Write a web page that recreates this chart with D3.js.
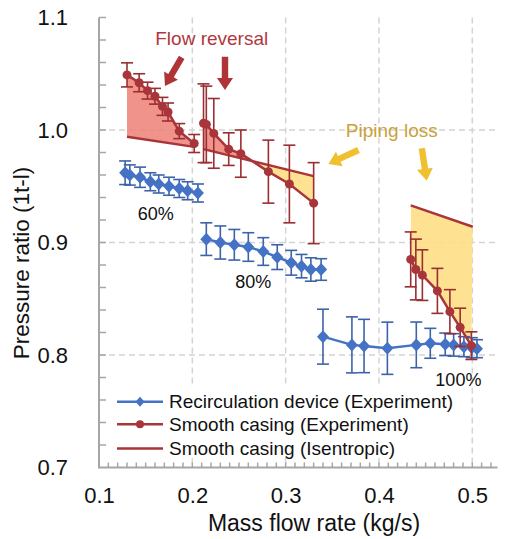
<!DOCTYPE html>
<html>
<head>
<meta charset="utf-8">
<script src="https://cdn.jsdelivr.net/npm/d3@7"></script>
<style>
  body { margin: 0; background: #fff; }
  svg { font-family: "Liberation Sans", Arial, sans-serif; }
</style>
</head>
<body>
<svg id="chart" width="507" height="539"></svg>
<script>
// [mass flow, pressure ratio, error]
var recirc60 = [[0.128, 0.962, 0.0105], [0.133, 0.960, 0.009], [0.144, 0.958, 0.009], [0.155, 0.954, 0.008], [0.164, 0.952, 0.008],
                [0.175, 0.950, 0.008], [0.186, 0.948, 0.008], [0.195, 0.946, 0.008], [0.206, 0.944, 0.008]]
var recirc80 = [[0.215, 0.903, 0.0145], [0.230, 0.900, 0.0147], [0.245, 0.898, 0.0136], [0.260, 0.896, 0.0127], [0.276, 0.892, 0.0123],
                [0.291, 0.887, 0.011], [0.306, 0.882, 0.011], [0.317, 0.879, 0.0104], [0.327, 0.876, 0.0104], [0.338, 0.876, 0.0096]]
var recirc100 = [[0.340, 0.8163, 0.0244], [0.371, 0.809, 0.0249], [0.384, 0.808, 0.0237], [0.409, 0.806, 0.0232], [0.440, 0.809, 0.0203],
                 [0.455, 0.8104, 0.0133], [0.471, 0.8095, 0.010], [0.480, 0.809, 0.010], [0.491, 0.8074, 0.0089], [0.4995, 0.8065, 0.0089],
                 [0.505, 0.8056, 0.008]]

var smooth1 = [[0.130, 1.049, 0.0107], [0.143, 1.042, 0.008], [0.152, 1.035, 0.0075], [0.160, 1.030, 0.007], [0.168, 1.021, 0.008],
               [0.174, 1.016, 0.008], [0.186, 0.999, 0.0067], [0.202, 0.988, 0.008]]
var smooth2 = [[0.212, 1.006, 0.035], [0.215, 1.005, 0.034], [0.223, 0.997, 0.031], [0.239, 0.983, 0.0145], [0.252, 0.979, 0.021],
               [0.2815, 0.963, 0.028], [0.304, 0.952, 0.0345], [0.330, 0.935, 0.036]]
var smooth3 = [[0.434, 0.885, 0.0244], [0.4395, 0.876, 0.027], [0.4465, 0.871, 0.0225], [0.4626, 0.857, 0.020], [0.476, 0.8385, 0.0196],
               [0.487, 0.8246, 0.017], [0.499, 0.8083, 0.0123]]

var isen1 = [[0.130, 0.994], [0.202, 0.985]]
var isen2 = [[0.212, 0.983], [0.330, 0.959]]
var isen3 = [[0.434, 0.933], [0.5005, 0.914]]

var xTicks = [0.1, 0.2, 0.3, 0.4, 0.5]
var yTicks = [0.7, 0.8, 0.9, 1.0, 1.1]
var speedLabels = [{t: "60%", x: 0.1608, y: 0.9204}, {t: "80%", x: 0.2654, y: 0.8596}, {t: "100%", x: 0.4851, y: 0.7724}]
var legendItems = ["Recirculation device (Experiment)", "Smooth casing (Experiment)", "Smooth casing (Isentropic)"]
// arrows: [from, to]
var redArrows = [[[0.1886, 1.0646], [0.1707, 1.0391]], [[0.235, 1.0652], [0.235, 1.0356]]]
var yellowArrows = [[[0.378, 0.9822], [0.3458, 0.9698]], [[0.4459, 0.9837], [0.4512, 0.9549]]]

var blue = "#4472c4", blueBar = "#3c63aa", red = "#a8353a", redBar = "#9a2e33"
var redFill = "#ee857b", yellowFill = "#ffdf85"

var x = d3.scaleLinear().domain([0.1, 0.5]).range([99, 472.3])
var y = d3.scaleLinear().domain([0.7, 1.1]).range([467.5, 17.5])
var xMax = 0.527

var svg = d3.select("#chart")

// grid
svg.append("g").selectAll("line").data(xTicks.slice(1)).enter().append("line")
    .attr("x1", d => x(d)).attr("x2", d => x(d))
    .attr("y1", y(1.1)).attr("y2", y(0.7))
    .style("stroke", "#d4d4d4").style("stroke-width", 1.5).style("stroke-dasharray", "6,4")
svg.append("g").selectAll("line").data([0.8, 0.9, 1.0]).enter().append("line")
    .attr("x1", x(0.1)).attr("x2", x(xMax))
    .attr("y1", d => y(d)).attr("y2", d => y(d))
    .style("stroke", "#d4d4d4").style("stroke-width", 1.5).style("stroke-dasharray", "6,4")

// fills between experiment and isentropic
var defs = svg.append("defs")
var groups = [[smooth1, isen1], [smooth2, isen2], [smooth3, isen3]]
groups.forEach((g, i) => {
    var a = [x(g[1][0][0]), y(g[1][0][1])], b = [x(g[1][1][0]), y(g[1][1][1])]
    defs.append("clipPath").attr("id", "above" + i).append("polygon")
        .attr("points", [a, b, [b[0], 0], [a[0], 0]].map(p => p.join(",")).join(" "))
    defs.append("clipPath").attr("id", "below" + i).append("polygon")
        .attr("points", [a, b, [b[0], 539], [a[0], 539]].map(p => p.join(",")).join(" "))
    var poly = g[0].map(d => [x(d[0]), y(d[1])]).concat([b, a])
    var pts = poly.map(p => p.join(",")).join(" ")
    svg.append("polygon").attr("points", pts).attr("clip-path", "url(#above" + i + ")")
        .style("fill", redFill).style("fill-opacity", 0.88)
    svg.append("polygon").attr("points", pts).attr("clip-path", "url(#below" + i + ")")
        .style("fill", yellowFill).style("fill-opacity", 0.9)
})

// axes
svg.append("line").attr("x1", x(0.1)).attr("x2", x(0.1)).attr("y1", y(1.1)).attr("y2", y(0.7))
    .style("stroke", "#a6a6a6").style("stroke-width", 2)
svg.append("line").attr("x1", x(0.1) - 1).attr("x2", x(xMax)).attr("y1", y(0.7)).attr("y2", y(0.7))
    .style("stroke", "#a6a6a6").style("stroke-width", 2)
svg.append("g").selectAll("line").data(d3.range(0.72, 1.101, 0.02)).enter().append("line")
    .attr("x1", x(0.1)).attr("x2", x(0.1) + 7)
    .attr("y1", d => y(d)).attr("y2", d => y(d))
    .style("stroke", "#a6a6a6").style("stroke-width", 1.5)
svg.append("g").selectAll("line").data(d3.range(0.11, xMax, 0.01)).enter().append("line")
    .attr("x1", d => x(d)).attr("x2", d => x(d))
    .attr("y1", y(0.7)).attr("y2", y(0.7) - 5)
    .style("stroke", "#a6a6a6").style("stroke-width", 1.5)

svg.append("g").attr("transform", "translate(0," + y(0.7) + ")")
    .call(d3.axisBottom(x).tickValues(xTicks).tickFormat(d3.format(".1f")).tickSize(0).tickPadding(20))
    .call(g => g.select(".domain").remove())
    .selectAll("text").style("font-size", "22px").style("fill", "#111").style("font-family", "Liberation Sans, Arial")
svg.append("g").attr("transform", "translate(" + x(0.1) + ",0)")
    .call(d3.axisLeft(y).tickValues(yTicks).tickFormat(d3.format(".1f")).tickSize(0).tickPadding(31))
    .call(g => g.select(".domain").remove())
    .selectAll("text").style("font-size", "22px").style("fill", "#111").style("font-family", "Liberation Sans, Arial")

svg.append("text").attr("x", 314).attr("y", 531).style("text-anchor", "middle")
    .style("font-size", "23px").style("fill", "#111").text("Mass flow rate (kg/s)")
svg.append("text").attr("transform", "translate(29,263) rotate(-90)").style("text-anchor", "middle")
    .style("font-size", "22.5px").style("fill", "#111").text("Pressure ratio (1t-l)")

// series drawing
function errorBars(data, color) {
    var g = svg.append("g").style("stroke", color).style("stroke-width", 1.6)
    g.selectAll("line.v").data(data).enter().append("line")
        .attr("x1", d => x(d[0])).attr("x2", d => x(d[0]))
        .attr("y1", d => y(d[1] + d[2])).attr("y2", d => y(d[1] - d[2]))
    g.selectAll("line.t").data(data).enter().append("line")
        .attr("x1", d => x(d[0]) - 6).attr("x2", d => x(d[0]) + 6)
        .attr("y1", d => y(d[1] + d[2])).attr("y2", d => y(d[1] + d[2]))
    g.selectAll("line.b").data(data).enter().append("line")
        .attr("x1", d => x(d[0]) - 6).attr("x2", d => x(d[0]) + 6)
        .attr("y1", d => y(d[1] - d[2])).attr("y2", d => y(d[1] - d[2]))
}
var line = d3.line().x(d => x(d[0])).y(d => y(d[1]))
var diamond = "M0,-6.5L6,0L0,6.5L-6,0Z"

;[recirc60, recirc80, recirc100].forEach(s => {
    errorBars(s, blueBar)
    svg.append("path").attr("d", line(s)).style("fill", "none").style("stroke", blue).style("stroke-width", 2.5)
    svg.append("g").selectAll("path").data(s).enter().append("path")
        .attr("d", diamond).attr("transform", d => "translate(" + x(d[0]) + "," + y(d[1]) + ")")
        .style("fill", blue)
})

;[isen1, isen2, isen3].forEach(s => {
    svg.append("path").attr("d", line(s)).style("fill", "none").style("stroke", red).style("stroke-width", 2.5)
})
;[smooth1, smooth2, smooth3].forEach(s => {
    errorBars(s, redBar)
    svg.append("path").attr("d", line(s)).style("fill", "none").style("stroke", red).style("stroke-width", 2.5)
    svg.append("g").selectAll("circle").data(s).enter().append("circle")
        .attr("cx", d => x(d[0])).attr("cy", d => y(d[1])).attr("r", 4.5)
        .style("fill", red)
})

// annotations
function arrow(a, color) {
    var x0 = x(a[0][0]), y0 = y(a[0][1]), x1 = x(a[1][0]), y1 = y(a[1][1])
    var len = Math.hypot(x1 - x0, y1 - y0), ux = (x1 - x0) / len, uy = (y1 - y0) / len
    var px = -uy, py = ux, sw = 3.2, hw = 8, hl = 12
    var bx = x1 - ux * hl, by = y1 - uy * hl
    var pts = [[x0 + px * sw, y0 + py * sw], [bx + px * sw, by + py * sw], [bx + px * hw, by + py * hw], [x1, y1],
               [bx - px * hw, by - py * hw], [bx - px * sw, by - py * sw], [x0 - px * sw, y0 - py * sw]]
    svg.append("polygon").attr("points", pts.map(p => p.join(",")).join(" ")).style("fill", color)
}
redArrows.forEach(a => arrow(a, "#b03338"))
yellowArrows.forEach(a => arrow(a, "#f0c030"))

svg.append("text").attr("x", x(0.2208)).attr("y", y(1.0756)).style("text-anchor", "middle")
    .style("font-size", "19px").style("fill", "#b0383c").text("Flow reversal")
svg.append("text").attr("x", x(0.4137)).attr("y", y(0.9935)).style("text-anchor", "middle")
    .style("font-size", "19px").style("fill", "#c9a23a").text("Piping loss")

// legend
var leg = svg.append("g")
leg.append("rect").attr("x", 107).attr("y", 387).attr("width", 350).attr("height", 71).style("fill", "#fff")
var rows = [401.7, 424.3, 448.5]
legendItems.forEach((t, i) => {
    var c = i == 0 ? blue : red
    leg.append("line").attr("x1", 117).attr("x2", 163).attr("y1", rows[i]).attr("y2", rows[i])
        .style("stroke", c).style("stroke-width", 2.5)
    if (i == 0) leg.append("path").attr("d", "M0,-5L4.5,0L0,5L-4.5,0Z").attr("transform", "translate(140," + rows[i] + ")").style("fill", c)
    if (i == 1) leg.append("circle").attr("cx", 140).attr("cy", rows[i]).attr("r", 4).style("fill", c)
    leg.append("text").attr("x", 169).attr("y", rows[i]).attr("dy", "0.35em")
        .style("font-size", "19px").style("fill", "#111").text(t)
})

svg.append("g").selectAll("text").data(speedLabels).enter().append("text")
    .attr("x", d => x(d.x)).attr("y", d => y(d.y)).style("text-anchor", "middle")
    .style("font-size", "18px").style("fill", "#111").text(d => d.t)
</script>
</body>
</html>
